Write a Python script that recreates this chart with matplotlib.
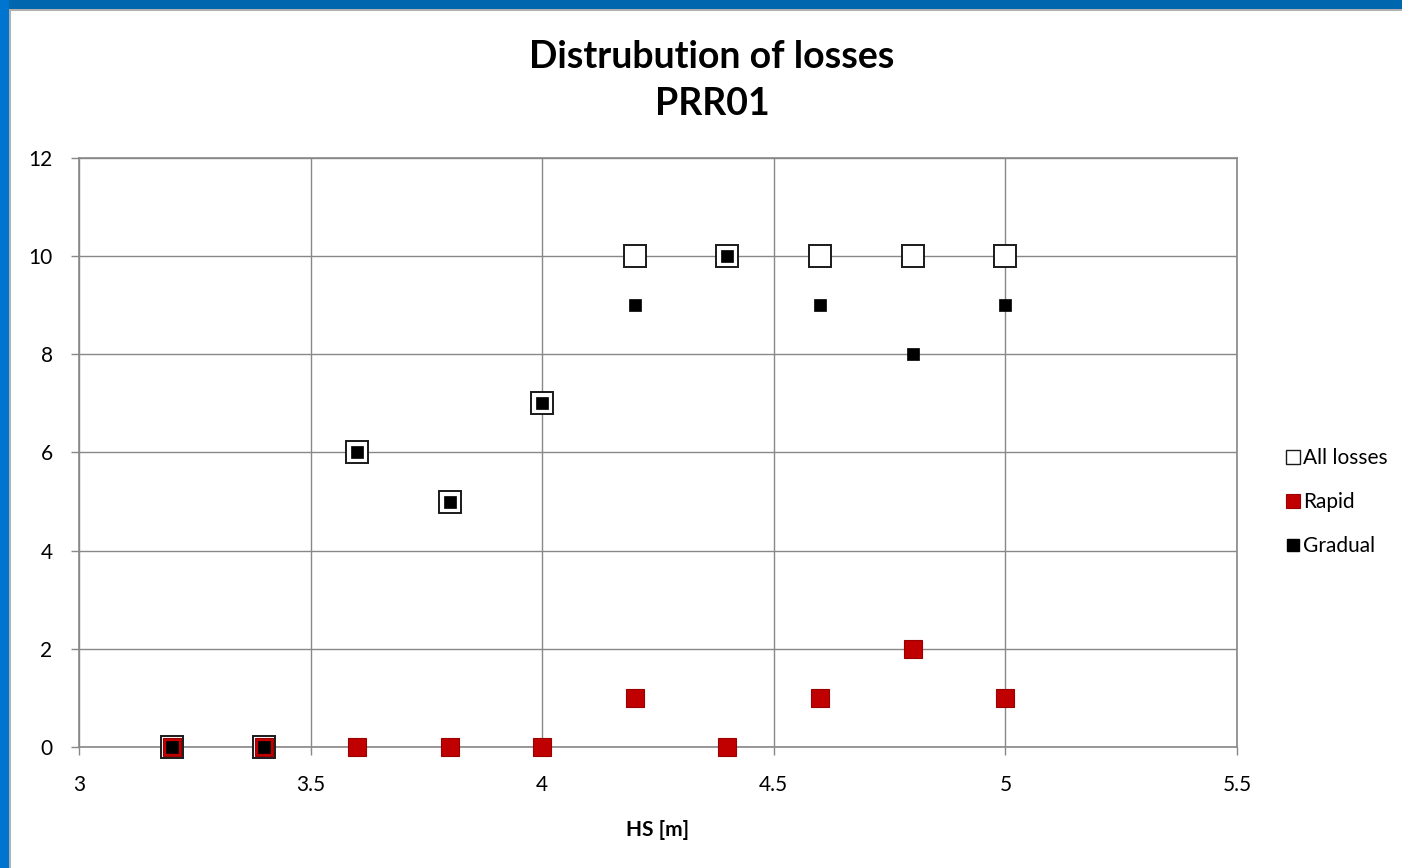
import matplotlib
matplotlib.use("Agg")
import matplotlib.pyplot as plt
from matplotlib.patches import Rectangle
from matplotlib.lines import Line2D

# data
hs = [3.2, 3.4, 3.6, 3.8, 4.0, 4.2, 4.4, 4.6, 4.8, 5.0]
all_losses = [0, 0, 6, 5, 7, 10, 10, 10, 10, 10]
rapid = [0, 0, 0, 0, 0, 1, 0, 1, 2, 1]
gradual = [0, 0, 6, 5, 7, 9, 10, 9, 8, 9]

x_ticks = [3, 3.5, 4, 4.5, 5, 5.5]
x_labels = ['3', '3.5', '4', '4.5', '5', '5.5']
y_ticks = [0, 2, 4, 6, 8, 10, 12]

plt.rcParams['font.family'] = ['Lato', 'DejaVu Sans']

W, H = 1402, 868
fig = plt.figure(figsize=(W / 100, H / 100), dpi=100)
fig.patch.set_facecolor('white')

# blue slide frame on top and left edges
fig.patches.append(Rectangle((0, 1 - 9 / H), 1, 9 / H, transform=fig.transFigure,
                             facecolor='#0066ae', edgecolor='none', zorder=0))
fig.patches.append(Rectangle((0, 0), 9 / W, 1, transform=fig.transFigure,
                             facecolor='#0075cf', edgecolor='none', zorder=0))
fig.patches.append(Rectangle((9 / W, 0), 2 / W, 1 - 9 / H, transform=fig.transFigure,
                             facecolor='#b0b0b0', edgecolor='none', zorder=0))
fig.patches.append(Rectangle((9 / W, 1 - 11 / H), 1 - 9 / W, 2 / H, transform=fig.transFigure,
                             facecolor='#b0b0b0', edgecolor='none', zorder=0))

ax = fig.add_axes([79 / W, (H - 747) / H, (1237 - 79) / W, (747 - 158) / H])

ax.plot(hs, all_losses, linestyle='none', marker='s', markersize=15.5,
        markerfacecolor='white', markeredgecolor='#1a1a1a', markeredgewidth=1.4,
        label='All losses', zorder=3, clip_on=False)
ax.plot(hs, rapid, linestyle='none', marker='s', markersize=12.5,
        markerfacecolor='#c00000', markeredgecolor='#9a0000', markeredgewidth=0.8,
        label='Rapid', zorder=4, clip_on=False)
ax.plot(hs, gradual, linestyle='none', marker='s', markersize=8.5,
        markerfacecolor='black', markeredgecolor='black', markeredgewidth=0.5,
        label='Gradual', zorder=5, clip_on=False)

ax.set_xlim(3, 5.5)
ax.set_ylim(0, 12)
ax.set_xticks(x_ticks)
ax.set_xticklabels(x_labels)
ax.set_yticks(y_ticks)
ax.grid(True, color='#888888', linewidth=1.0)
ax.set_axisbelow(True)
for sp in ax.spines.values():
    sp.set_color('#888888')
    sp.set_linewidth(1.2)
ax.tick_params(axis='both', colors='#888888', length=6, width=1.0, labelcolor='black',
               labelsize=15)
ax.tick_params(axis='x', pad=14)
ax.tick_params(axis='y', pad=13)

ax.set_xlabel('HS [m]', fontsize=15, fontweight='bold', labelpad=18)

fig.text(712 / W, 1 - 57 / H, 'Distrubution of losses', ha='center', va='center',
         fontsize=27, fontweight='bold')
fig.text(712 / W, 1 - 104 / H, 'PRR01', ha='center', va='center',
         fontsize=27, fontweight='bold')

handles = [
    Line2D([], [], linestyle='none', marker='s', markersize=10, markerfacecolor='white',
           markeredgecolor='#1a1a1a', markeredgewidth=1.0),
    Line2D([], [], linestyle='none', marker='s', markersize=10, markerfacecolor='#c00000',
           markeredgecolor='#9a0000', markeredgewidth=0.8),
    Line2D([], [], linestyle='none', marker='s', markersize=9, markerfacecolor='black',
           markeredgecolor='black'),
]
fig.legend(handles, ['All losses', 'Rapid', 'Gradual'], loc='center left',
           bbox_to_anchor=(1268 / W, 1 - 502 / H), frameon=False, fontsize=15,
           handlelength=0.6, handletextpad=0.2, labelspacing=1.15)

fig.savefig('out.png', dpi=100)
